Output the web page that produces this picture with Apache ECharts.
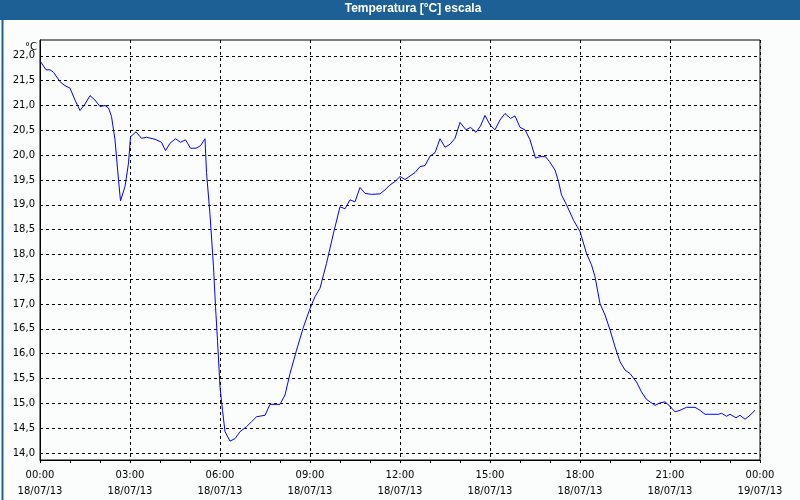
<!DOCTYPE html>
<html>
<head>
<meta charset="utf-8">
<script src="https://cdn.jsdelivr.net/npm/echarts@6/dist/echarts.min.js"></script>
<style>
html,body{margin:0;padding:0;background:#fbfdfc;}
#chart{width:800px;height:500px;}
</style>
</head>
<body>
<div id="chart"></div>
<script>
// minutes since 18/07/13 00:00
var minutes = [0,12,20,27,40,50,60,70,80,90,100,110,120,130,137,143,150,157,161,170,177,181,192,203,213,230,243,251,260,271,281,291,301,312,321,330,333,340,347,351,355,360,365,370,380,390,400,413,423,433,450,460,480,490,500,513,527,540,550,560,573,587,600,610,620,630,640,650,663,680,690,700,710,720,730,740,750,760,770,780,790,800,810,820,830,840,852,861,872,881,890,900,910,920,930,941,950,960,970,980,991,1000,1011,1019,1030,1037,1043,1053,1067,1080,1093,1103,1110,1120,1130,1140,1150,1160,1170,1180,1193,1203,1213,1230,1240,1250,1260,1270,1280,1293,1310,1320,1330,1340,1357,1363,1373,1380,1392,1400,1410,1420,1430];
var temps = [21.90,21.72,21.72,21.67,21.48,21.40,21.35,21.11,20.90,21.03,21.20,21.11,20.98,21.00,20.95,20.78,20.31,19.50,19.08,19.37,19.84,20.37,20.47,20.34,20.36,20.32,20.26,20.09,20.24,20.33,20.26,20.31,20.14,20.14,20.19,20.33,19.65,18.80,17.75,16.95,16.27,15.33,14.86,14.43,14.24,14.29,14.43,14.53,14.63,14.73,14.76,14.98,14.98,15.17,15.60,16.07,16.54,16.91,17.15,17.32,17.82,18.43,18.96,18.92,19.10,19.06,19.35,19.23,19.21,19.22,19.30,19.40,19.47,19.57,19.51,19.58,19.65,19.77,19.79,19.98,20.05,20.33,20.16,20.22,20.34,20.66,20.51,20.56,20.46,20.59,20.80,20.61,20.51,20.71,20.84,20.74,20.79,20.56,20.51,20.31,19.94,19.97,19.97,19.87,19.70,19.47,19.20,19.00,18.69,18.46,18.02,17.79,17.55,17.01,16.78,16.48,16.14,15.84,15.67,15.60,15.43,15.23,15.08,14.96,15.01,15.03,14.94,14.83,14.86,14.92,14.92,14.86,14.78,14.78,14.78,14.80,14.74,14.78,14.71,14.76,14.68,14.76,14.86];
var xTickLabels = ['00:00\n18/07/13','03:00\n18/07/13','06:00\n18/07/13','09:00\n18/07/13','12:00\n18/07/13','15:00\n18/07/13','18:00\n18/07/13','21:00\n18/07/13','00:00\n19/07/13'];
var yTicks = [14,14.5,15,15.5,16,16.5,17,17.5,18,18.5,19,19.5,20,20.5,21,21.5,22];
var titleText = 'Temperatura [°C] escala';
var unitText = '°C';

var data = minutes.map(function(m,i){return [m,temps[i]];});
var chart = echarts.init(document.getElementById('chart'));
var font = 'DejaVu Sans';
chart.setOption({
  animation:false,
  backgroundColor:'#fbfdfc',
  graphic:[
    {type:'rect',left:0,top:0,shape:{width:800,height:20},style:{fill:'#1d6096'},z:0},
    {type:'rect',left:0,top:0,shape:{width:799,height:499},style:{fill:'none',stroke:'#1d6096',lineWidth:2},z:0},
    {type:'text',x:413,y:3,style:{text:titleText,fill:'#ffffff',textAlign:'center',font:'bold 12px "Liberation Sans"'},z:1},
    {type:'text',left:25,top:42,style:{text:unitText,fill:'#000',font:'10px "DejaVu Sans"'},z:1}
  ],
  grid:{left:40,right:40,top:40,bottom:40,show:true,borderColor:'#000',borderWidth:1,backgroundColor:'transparent'},
  xAxis:{
    type:'value',min:0,max:1440,interval:180,
    axisLine:{lineStyle:{color:'#000',width:1}},
    axisTick:{show:true,length:3,lineStyle:{color:'#000'}},
    minorTick:{show:true,splitNumber:3,length:3,lineStyle:{color:'#000'}},
    splitLine:{show:true,lineStyle:{color:'#000',type:[3,3],width:1}},
    axisLabel:{margin:7,color:'#000',fontFamily:font,fontSize:10,lineHeight:16,
      formatter:function(v){return xTickLabels[Math.round(v/180)];}}
  },
  yAxis:{
    type:'value',min:13.859,max:22.32,
    axisLine:{show:true,lineStyle:{color:'#000',width:1}},
    axisTick:{show:false,customValues:yTicks},
    splitLine:{show:true,lineStyle:{color:'#000',type:[3,3],width:1}},
    axisLabel:{customValues:yTicks,margin:5,color:'#000',fontFamily:font,fontSize:10,
      formatter:function(v){return v.toFixed(1).replace('.',',');}}
  },
  series:[{type:'line',data:data,showSymbol:false,symbol:'none',lineStyle:{color:'#0000ff',width:1},itemStyle:{color:'#0000ff'}}]
});
</script>
</body>
</html>
